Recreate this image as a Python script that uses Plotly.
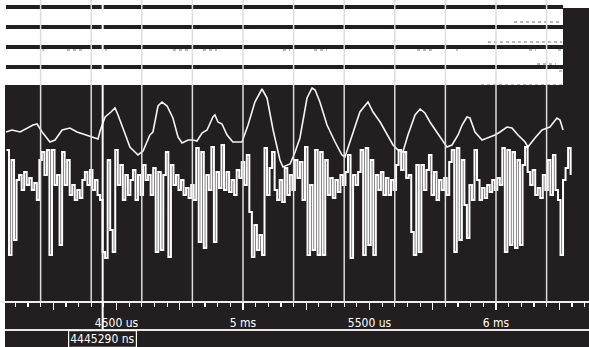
import plotly.graph_objects as go

# ---------------- data ----------------
# time axis (microseconds)
T_LEFT, T_RIGHT = 4039.5, 6367.6
GRID_T = [4200, 4400, 4600, 4800, 5000, 5200, 5400, 5600, 5800, 6000, 6200]
CURSOR_T = 4445.29
CURSOR_LABEL = "4445290 ns"
TICK_T = [4250, 4500, 4750, 5000, 5250, 5500, 5750, 6000, 6250]
TICK_TEXT = ["", "4500 us", "", "5 ms", "", "5500 us", "", "6 ms", ""]

# digital channels (solid low level across the window)
DIG_LANES = [0, 1, 2, 3]
DIG_START, DIG_END = 4063, 6265
# short glitch markings (lane position, start us, end us)
GLITCH = [
    (2.15, 4304, 4368), (2.15, 4206, 4214), (2.15, 4455, 4462),
    (2.15, 4723, 4783), (2.15, 4842, 4897), (2.15, 5158, 5186),
    (2.15, 5281, 5332), (2.15, 5688, 5747), (2.15, 5842, 5850),
    (2.15, 6130, 6158), (2.15, 6245, 6261),
    (0.75, 6071, 6261), (1.75, 5968, 6261), (2.85, 6162, 6237),
    (3.2, 6249, 6261), (3.9, 5941, 6261),
]

# analog channel 1 (smooth, periodic)
UPPER_T = [4063, 4087, 4119, 4146, 4170, 4186, 4206, 4237, 4257, 4285,
           4316, 4344, 4383, 4427, 4435, 4455, 4478, 4494, 4506, 4522,
           4534, 4553, 4585, 4605, 4632, 4644, 4664, 4680, 4700, 4723,
           4743, 4759, 4783, 4802, 4818, 4838, 4858, 4881, 4889, 4901,
           4917, 4937, 4960, 4996, 5020, 5047, 5075, 5095, 5119, 5146,
           5158, 5186, 5206, 5225, 5253, 5273, 5285, 5304, 5332, 5364,
           5391, 5403, 5431, 5462, 5494, 5514, 5542, 5569, 5593, 5613,
           5632, 5652, 5680, 5700, 5719, 5739, 5767, 5787, 5806, 5826,
           5850, 5866, 5885, 5897, 5917, 5945, 5968, 5996, 6016, 6043,
           6063, 6087, 6115, 6126, 6154, 6182, 6213, 6241, 6253, 6265]
UPPER_V = [168, 170, 168, 172, 175, 176, 168, 158, 160, 170,
           172, 168, 165, 161, 169, 183, 188, 192, 185, 173,
           166, 153, 145, 149, 165, 168, 194, 198, 194, 182,
           163, 157, 160, 160, 159, 167, 170, 183, 185, 178,
           176, 165, 158, 158, 175, 198, 211, 202, 170, 140,
           133, 136, 148, 162, 202, 212, 210, 198, 175, 158,
           145, 143, 165, 188, 198, 188, 178, 165, 155, 150,
           148, 165, 185, 191, 187, 178, 167, 160, 153, 155,
           165, 175, 183, 182, 168, 160, 162, 165, 168, 173,
           172, 165, 158, 153, 162, 170, 173, 182, 180, 170]

# analog channel 2 (noisy), sampled every 10 us from 4065 us
LOWER_T0, LOWER_DT = 4065, 10
LOWER_V = [150, 45, 140, 60, 120, 125, 110, 128, 115, 122,
           110, 117, 100, 140, 148, 125, 150, 45, 150, 115,
           125, 55, 148, 115, 140, 105, 115, 100, 110, 102,
           120, 128, 115, 130, 110, 120, 105, 100, 48, 42,
           140, 70, 48, 150, 115, 135, 100, 125, 105, 120,
           130, 100, 125, 105, 135, 120, 125, 105, 132, 48,
           128, 50, 125, 148, 43, 135, 115, 125, 110, 120,
           105, 112, 102, 115, 100, 152, 58, 148, 52, 125,
           110, 153, 58, 128, 112, 155, 110, 128, 108, 120,
           105, 130, 122, 138, 115, 145, 88, 43, 75, 50,
           65, 45, 152, 105, 132, 148, 110, 100, 120, 98,
           132, 105, 125, 110, 140, 122, 138, 100, 153, 45,
           115, 50, 150, 45, 148, 45, 140, 105, 122, 102,
           120, 108, 125, 115, 128, 145, 42, 125, 115, 128,
           150, 45, 152, 55, 140, 45, 125, 110, 128, 105,
           122, 105, 120, 110, 135, 150, 130, 148, 122, 125,
           68, 45, 135, 48, 135, 110, 130, 145, 105, 128,
           100, 120, 110, 122, 105, 138, 150, 48, 152, 60,
           140, 95, 62, 115, 100, 150, 120, 100, 112, 102,
           115, 108, 120, 110, 122, 115, 152, 48, 150, 55,
           148, 52, 140, 55, 135, 153, 128, 115, 130, 105,
           112, 102, 125, 110, 140, 105, 145, 110, 100, 45,
           120, 132, 152, 125]

# ---------------- figure ----------------
W, H = 589, 347
INK = "#231f20"
FONT = "Liberation Sans Narrow, DejaVu Sans Condensed, Arial Narrow, sans-serif"


def py(px):
    """convert a pixel row (from top) to paper fraction"""
    return (H - px) / H


def pxx(px):
    return px / W


fig = go.Figure()

# digital lanes
dx, dy = [], []
for lane in DIG_LANES:
    dx += [DIG_START, DIG_END, None]
    dy += [lane, lane, None]
fig.add_trace(go.Scatter(x=dx, y=dy, xaxis="x", yaxis="y2", mode="lines",
                         line=dict(color=INK, width=4.2), hoverinfo="skip"))

gx, gy = [], []
for lane, t0, t1 in GLITCH:
    gx += [t0, t1, None]
    gy += [lane, lane, None]
fig.add_trace(go.Scatter(x=gx, y=gy, xaxis="x", yaxis="y2", mode="lines",
                         line=dict(color="#a0a0a0", width=1.3, dash="dot"),
                         hoverinfo="skip"))

# analog traces
fig.add_trace(go.Scatter(x=UPPER_T, y=UPPER_V, xaxis="x", yaxis="y", mode="lines",
                         line=dict(color="#f4f4f4", width=1.6), hoverinfo="skip"))
lower_t = [LOWER_T0 + LOWER_DT * i for i in range(len(LOWER_V))]
fig.add_trace(go.Scatter(x=lower_t, y=LOWER_V, xaxis="x", yaxis="y", mode="lines",
                         line=dict(color="white", width=2.0, shape="hv"),
                         hoverinfo="skip"))

shapes = [
    # black analog + time strip background
    dict(type="rect", xref="paper", yref="paper", x0=pxx(5), x1=1, y0=0, y1=py(85),
         fillcolor=INK, line=dict(width=0), layer="below"),
    # black box right of digital lanes
    dict(type="rect", xref="paper", yref="paper", x0=pxx(563), x1=1, y0=py(85), y1=py(8),
         fillcolor=INK, line=dict(width=0), layer="below"),
    # lower separator line of the time strip
    dict(type="line", xref="paper", yref="paper", x0=pxx(5), x1=1, y0=py(330), y1=py(330),
         line=dict(color="#e6e6e6", width=2), layer="above"),
]
for g in GRID_T:
    shapes.append(dict(type="line", xref="x", yref="paper", x0=g, x1=g,
                       y0=py(302), y1=1, line=dict(color="#dcdcdc", width=1.5),
                       layer="above"))
shapes.append(dict(type="line", xref="x", yref="paper", x0=CURSOR_T, x1=CURSOR_T,
                   y0=py(330), y1=1, line=dict(color="white", width=2), layer="above"))

fig.update_layout(
    width=W, height=H,
    margin=dict(l=0, r=0, t=0, b=0, pad=0),
    paper_bgcolor="white", plot_bgcolor="rgba(0,0,0,0)",
    showlegend=False,
    shapes=shapes,
    xaxis=dict(range=[T_LEFT, T_RIGHT], anchor="free", position=py(302), side="bottom",
               showgrid=False, zeroline=False,
               showline=True, linecolor="#eeeeee", linewidth=2,
               tickmode="array", tickvals=TICK_T, ticktext=TICK_TEXT,
               ticks="outside", ticklen=7, tickwidth=1.2, tickcolor="white",
               ticklabelstandoff=3,
               tickfont=dict(family=FONT, size=12, color="white"),
               minor=dict(ticks="outside", ticklen=4, tickwidth=1.2, tickcolor="white",
                          dtick=50, tick0=4000, showgrid=False),
               fixedrange=True),
    yaxis=dict(domain=[py(300), py(85)], range=[0, 215], visible=False, fixedrange=True),
    yaxis2=dict(domain=[py(85), 1], range=[3.9, -0.35], visible=False, fixedrange=True),
    annotations=[dict(x=CURSOR_T, xref="x", y=py(338.5), yref="paper",
                      text=CURSOR_LABEL, showarrow=False,
                      font=dict(family=FONT, size=12, color="white"),
                      bgcolor=INK, bordercolor="white", borderwidth=1.2, borderpad=1,
                      xanchor="center", yanchor="middle")],
)

fig.write_html("out.html", config={"displayModeBar": False, "staticPlot": True},
               post_script="document.body.style.margin='0px';document.body.style.overflow='hidden';")
